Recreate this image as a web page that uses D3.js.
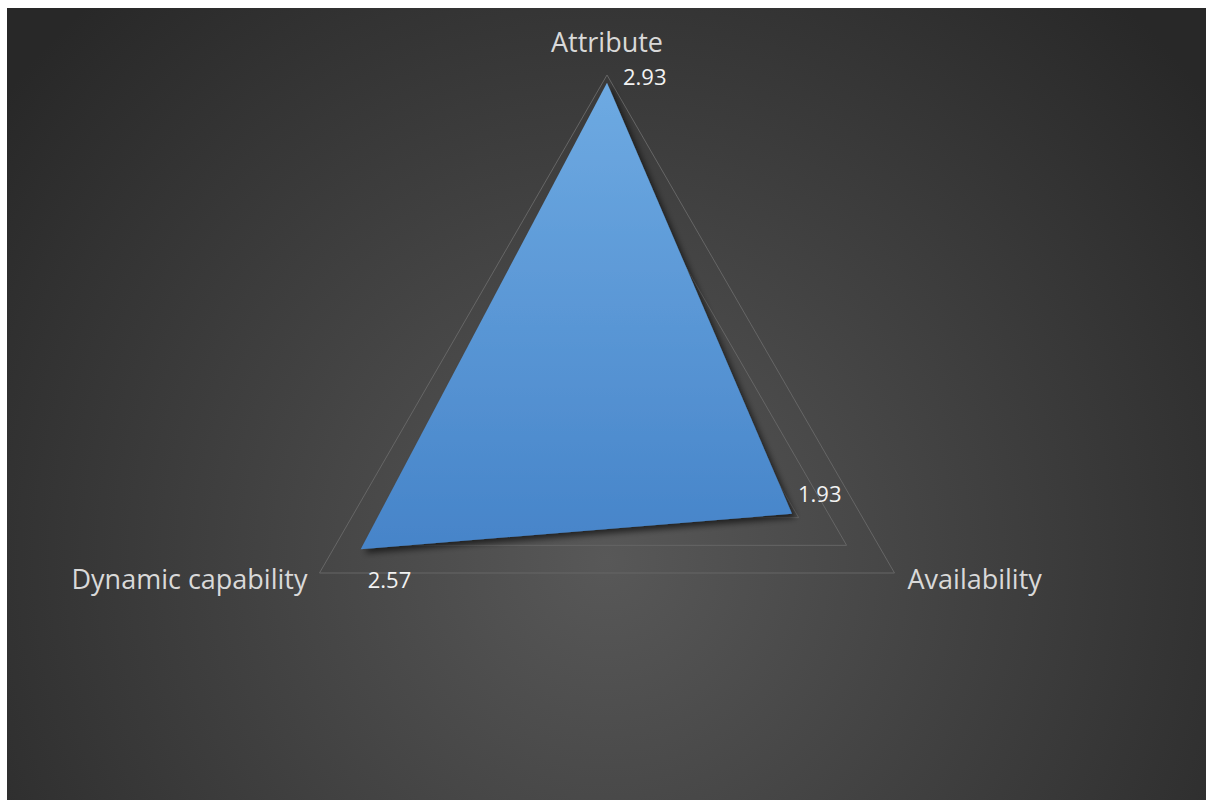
<!DOCTYPE html>
<html><head><meta charset="utf-8">
<script src="https://cdn.jsdelivr.net/npm/d3@7"></script>
<style>html,body{margin:0;padding:0;background:#fff;}svg{display:block;}</style>
</head><body>
<svg id="chart" width="1206" height="800"></svg>
<script>
const axes = ["Attribute", "Availability", "Dynamic capability"];
const values = [2.93, 1.93, 2.57];
const valueLabels = ["2.93", "1.93", "2.57"];
const gridLevels = [0.5, 1, 1.5, 2, 2.5, 3];

const svg = d3.select("#chart");
const defs = svg.append("defs");
const bg = defs.append("radialGradient").attr("id","bg").attr("gradientUnits","userSpaceOnUse")
  .attr("cx",606).attr("cy",560).attr("r",760);
bg.append("stop").attr("offset","0%").attr("stop-color","#585858");
bg.append("stop").attr("offset","100%").attr("stop-color","#282828");
const fg = defs.append("linearGradient").attr("id","fill").attr("gradientUnits","userSpaceOnUse")
  .attr("x1",0).attr("y1",83).attr("x2",0).attr("y2",549);
fg.append("stop").attr("offset","0%").attr("stop-color","#6eaae2");
fg.append("stop").attr("offset","100%").attr("stop-color","#4684c9");
const sh = defs.append("filter").attr("id","shadow").attr("x","-20%").attr("y","-20%").attr("width","140%").attr("height","140%");
sh.append("feGaussianBlur").attr("in","SourceAlpha").attr("stdDeviation",3).attr("result","b");
sh.append("feOffset").attr("in","b").attr("dx",4).attr("dy",4).attr("result","o");
sh.append("feComponentTransfer").attr("in","o").attr("result","s").append("feFuncA").attr("type","linear").attr("slope",0.6);
const m = sh.append("feMerge"); m.append("feMergeNode").attr("in","s"); m.append("feMergeNode").attr("in","SourceGraphic");

svg.append("rect").attr("x",7).attr("y",8).attr("width",1199).attr("height",792).attr("fill","url(#bg)");

const cx = 607, cy = 407, R = 332;
const r = d3.scaleLinear().domain([0,3]).range([0,R]);
const angle = i => -Math.PI/2 + i*2*Math.PI/axes.length;
const pt = (i,v) => [cx + r(v)*Math.cos(angle(i)), cy + r(v)*Math.sin(angle(i))];
const line = d3.line();

svg.append("g").selectAll("path").data(gridLevels).join("path")
  .attr("d", lv => line(axes.map((a,i)=>pt(i,lv))) + "Z")
  .attr("fill","none").attr("stroke","#666").attr("stroke-width",1);

svg.append("path").attr("d", line(values.map((v,i)=>pt(i,v))) + "Z")
  .attr("fill","url(#fill)").attr("filter","url(#shadow)");

const font = "'Open Sans', sans-serif";
const axLab = [
  {dx:0, dy:-23, anchor:"middle"},
  {dx:13, dy:16, anchor:"start"},
  {dx:-12, dy:16, anchor:"end"}
];
svg.append("g").selectAll("text").data(axes).join("text")
  .attr("x",(d,i)=>pt(i,3)[0]+axLab[i].dx).attr("y",(d,i)=>pt(i,3)[1]+axLab[i].dy)
  .attr("text-anchor",(d,i)=>axLab[i].anchor)
  .attr("font-family",font).attr("font-size",27).attr("fill","#d9d9d9").text(d=>d);

const valOff = [{dx:16,dy:2},{dx:6,dy:-12},{dx:7,dy:39}];
svg.append("g").selectAll("text").data(valueLabels).join("text")
  .attr("x",(d,i)=>pt(i,values[i])[0]+valOff[i].dx).attr("y",(d,i)=>pt(i,values[i])[1]+valOff[i].dy)
  .attr("font-family",font).attr("font-size",22).attr("fill","#f2f2f2").text(d=>d);
</script>
</body></html>
